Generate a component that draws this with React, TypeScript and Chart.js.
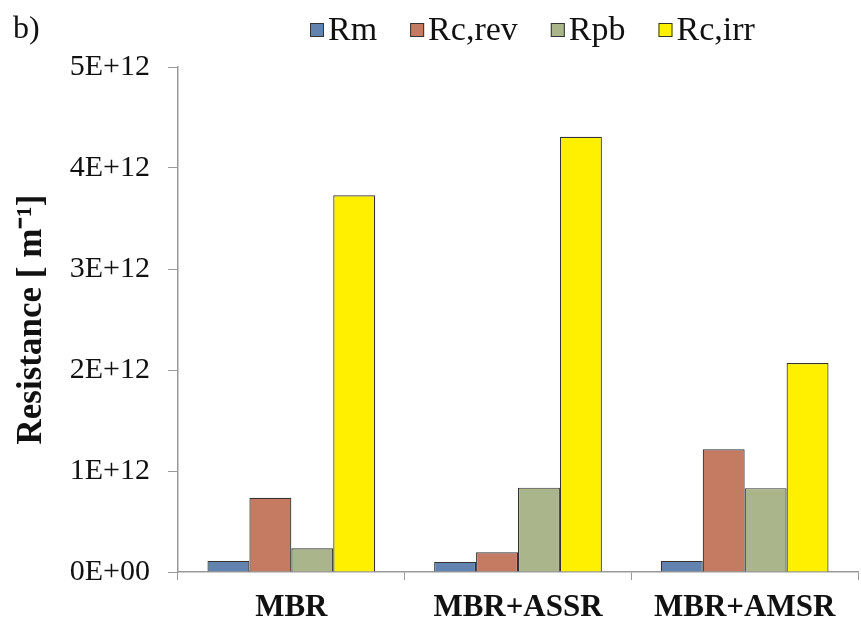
import React, { useEffect, useRef } from "react";
import { Chart, registerables } from "chart.js";

Chart.register(...registerables);

const categories = ["MBR", "MBR+ASSR", "MBR+AMSR"];
const seriesNames = ["Rm", "Rc,rev", "Rpb", "Rc,irr"];
const rm = [0.11e12, 0.1e12, 0.11e12];
const rcRev = [0.735e12, 0.195e12, 1.215e12];
const rpb = [0.235e12, 0.835e12, 0.83e12];
const rcIrr = [3.73e12, 4.31e12, 2.07e12];
const seriesColors = ["#6282B0", "#C47B62", "#AAB58B", "#FFF000"];
const yTicks = [0, 1e12, 2e12, 3e12, 4e12, 5e12];
const yTickLabels = ["0E+00", "1E+12", "2E+12", "3E+12", "4E+12", "5E+12"];
const yTitle = "Resistance [ m\u207B\u00B9]";
const panelLabel = "b)";

const FONT = "'Liberation Serif', 'Times New Roman', serif";

const legendPlugin = {
  id: "customLegend",
  afterDraw(chart: any) {
    const ctx = chart.ctx;
    ctx.save();
    // panel label
    ctx.font = `32px ${FONT}`;
    ctx.fillStyle = "#111";
    ctx.textBaseline = "alphabetic";
    ctx.textAlign = "left";
    ctx.fillText(panelLabel, 13, 38);
    // legend
    let x = 310;
    const box = 14;
    const cy = 30;
    chart.data.datasets.forEach((ds: any) => {
      ctx.fillStyle = ds.backgroundColor;
      ctx.fillRect(x, cy - box / 2, box, box);
      ctx.strokeStyle = "#333";
      ctx.lineWidth = 1;
      ctx.strokeRect(x + 0.5, cy - box / 2 + 0.5, box - 1, box - 1);
      ctx.fillStyle = "#111";
      ctx.textBaseline = "middle";
      ctx.font = `34px ${FONT}`;
      const tx = x + box + 4;
      ctx.fillText(ds.label, tx, cy + 1);
      x = tx + ctx.measureText(ds.label).width + 33;
    });
    ctx.restore();
  },
};

export default function App() {
  const ref = useRef<HTMLCanvasElement | null>(null);
  useEffect(() => {
    if (!ref.current) return;
    const values = [rm, rcRev, rpb, rcIrr];
    const chart = new Chart(ref.current, {
      type: "bar",
      data: {
        labels: categories,
        datasets: seriesNames.map((name, i) => ({
          label: name,
          data: values[i],
          backgroundColor: seriesColors[i],
          borderColor: "#333",
          borderWidth: 1.2,
          borderSkipped: "bottom" as const,
          categoryPercentage: 0.74,
          barPercentage: 1.0,
        })),
      },
      options: {
        animation: false,
        responsive: true,
        maintainAspectRatio: false,
        layout: { padding: { top: 67, right: 3, bottom: 0, left: 0 } },
        plugins: {
          legend: { display: false },
          tooltip: { enabled: false },
        },
        scales: {
          x: {
            type: "category",
            offset: true,
            grid: {
              offset: true,
              drawOnChartArea: false,
              drawTicks: true,
              tickLength: 8,
              color: "#9a9a9a",
            },
            border: { color: "#9a9a9a", width: 1.5 },
            ticks: {
              color: "#111",
              font: { family: FONT, size: 31, weight: "bold" },
              padding: 9,
              maxRotation: 0,
            },
            afterFit: (scale: any) => {
              scale.height = 47;
            },
          },
          y: {
            min: 0,
            max: 5e12,
            afterBuildTicks: (scale: any) => {
              scale.ticks = yTicks.map((v) => ({ value: v }));
            },
            grid: {
              drawOnChartArea: false,
              drawTicks: true,
              tickLength: 10,
              color: "#9a9a9a",
            },
            border: { color: "#9a9a9a", width: 1.5 },
            ticks: {
              color: "#111",
              font: { family: FONT, size: 30 },
              padding: 18,
              callback: (v: any) => {
                const idx = yTicks.indexOf(Number(v));
                return idx >= 0 ? yTickLabels[idx] : "";
              },
            },
            title: {
              display: true,
              text: yTitle,
              color: "#111",
              font: { family: FONT, size: 35, weight: "bold" },
              padding: { top: 11, bottom: 0 },
            },
            afterFit: (scale: any) => {
              scale.width = 178;
            },
          },
        },
      },
      plugins: [legendPlugin],
    });
    return () => chart.destroy();
  }, []);
  return (
    <div
      style={{
        position: "fixed",
        left: 0,
        top: 0,
        width: 861,
        height: 619,
        background: "#fff",
      }}
    >
      <canvas ref={ref} />
    </div>
  );
}
